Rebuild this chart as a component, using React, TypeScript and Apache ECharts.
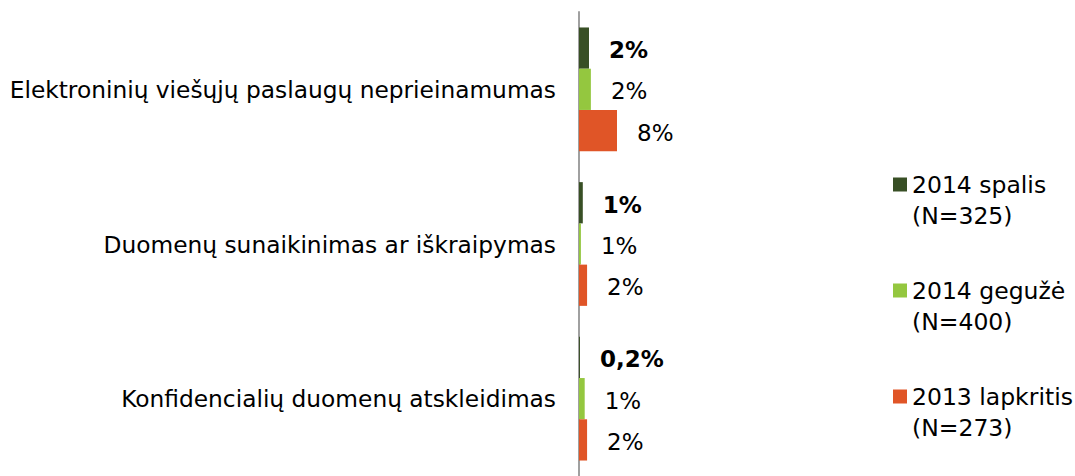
import React, { useEffect, useRef } from "react";
import * as echarts from "echarts";

const categories = [
  "Elektroninių viešųjų paslaugų neprieinamumas",
  "Duomenų sunaikinimas ar iškraipymas",
  "Konfidencialių duomenų atskleidimas",
];
const seriesNames = ["2014 spalis\n(N=325)", "2014 gegužė\n(N=400)", "2013 lapkritis\n(N=273)"];
const spalis = [2.1, 0.8, 0.2];
const geguze = [2.5, 0.4, 1.2];
const lapkritis = [8.0, 1.7, 1.7];
const spalisLabels = ["2%", "1%", "0,2%"];
const geguzeLabels = ["2%", "1%", "1%"];
const lapkritisLabels = ["8%", "2%", "2%"];
const colors = ["#384F25", "#94C73F", "#E05527"];

export default function App() {
  const ref = useRef<HTMLDivElement>(null);
  useEffect(() => {
    if (!ref.current) return;
    const chart = echarts.init(ref.current, undefined, { renderer: "svg" });
    const font = "'DejaVu Sans', sans-serif";
    const mk = (name: string, data: number[], labels: string[], color: string, bold: boolean) => ({
      name,
      type: "bar",
      data,
      barGap: "0%",
      barCategoryGap: "20%",
      itemStyle: { color },
      label: {
        show: true,
        position: "right",
        distance: 20,
        offset: [0, 2],
        color: "#000",
        fontSize: 23,
        fontFamily: font,
        fontWeight: bold ? "bold" : "normal",
        formatter: (p: any) => labels[p.dataIndex],
      },
    });
    chart.setOption({
      animation: false,
      textStyle: { fontFamily: font },
      grid: { left: 579, top: 12, width: 285, bottom: -8, containLabel: false },
      xAxis: {
        type: "value",
        min: 0,
        max: 60,
        show: false,
      },
      yAxis: {
        type: "category",
        data: categories,
        inverse: true,
        axisLine: { show: true, lineStyle: { color: "#A0A0A0", width: 2 } },
        axisTick: { show: false },
        axisLabel: { fontSize: 23.3, color: "#000", margin: 23, fontFamily: font },
      },
      legend: {
        orient: "vertical",
        left: 893,
        top: 138,
        height: 330,
        padding: 0,
        itemWidth: 14,
        itemHeight: 14,
        itemGap: 13,
        icon: "rect",
        formatter: (name: string) => "\n" + name,
        textStyle: { fontSize: 23.5, color: "#000", fontFamily: font, lineHeight: 31 },
        data: seriesNames,
      },
      series: [
        mk(seriesNames[0], spalis, spalisLabels, colors[0], true),
        mk(seriesNames[1], geguze, geguzeLabels, colors[1], false),
        mk(seriesNames[2], lapkritis, lapkritisLabels, colors[2], false),
      ],
    });
    return () => chart.dispose();
  }, []);
  return <div ref={ref} style={{ width: 1075, height: 476, position: "absolute", left: 0, top: 0 }} />;
}
